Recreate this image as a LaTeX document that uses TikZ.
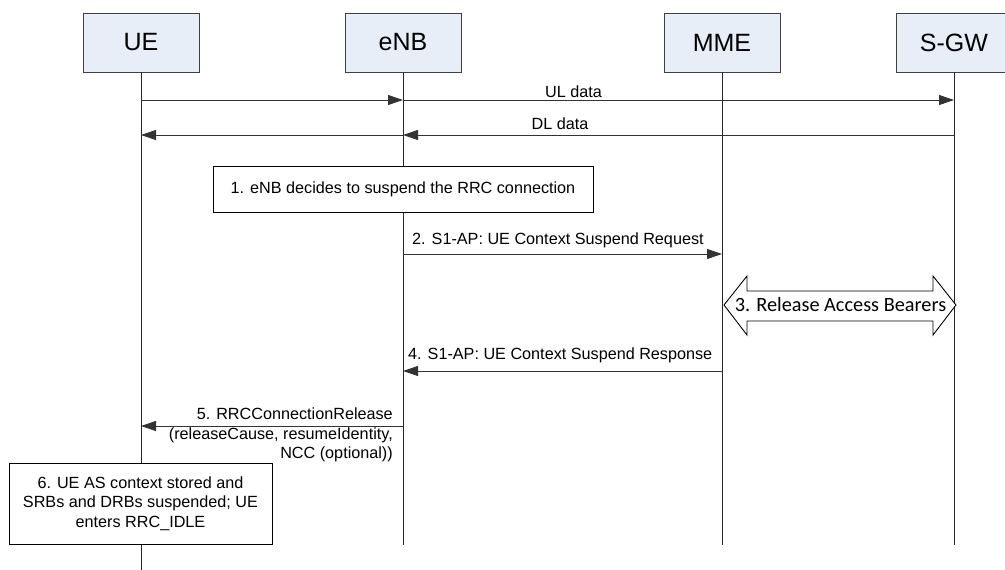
\documentclass[tikz,border=0pt]{standalone}
\usepackage{fontspec}
\setmainfont{Liberation Sans}
\newfontfamily\carlitofont{Carlito}
\usetikzlibrary{arrows.meta}
\definecolor{boxblue}{RGB}{232,238,247}
\begin{document}
\begin{tikzpicture}[x=1pt,y=-1pt,
  entity/.style={draw=black!75, line width=1pt, fill=boxblue, minimum width=116pt, minimum height=59pt, inner sep=0pt, font=\fontsize{25}{29}\selectfont},
  life/.style={draw=black!85, line width=0.8pt},
  msg/.style={draw=black!80, line width=0.9pt, -{Triangle[length=15pt,width=10pt]}},
  lbl/.style={inner sep=0pt, font=\fontsize{16.2}{19.5}\selectfont},
  stepbox/.style={draw=black, line width=1pt, fill=white, inner sep=0pt, align=center, font=\fontsize{16.2}{19.5}\selectfont},
  bigarrow/.style={draw=black, line width=0.9pt, fill=white}]
\useasboundingbox (0,0) rectangle (1005,570);

% entities
\node[entity] (ue)  at (141,42.5) {UE};
\node[entity] (enb) at (403,42.5) {eNB};
\node[entity] (mme) at (722,42.5) {MME};
\node[entity] (sgw) at (954,42.5) {S-GW};

% lifeline ends
\coordinate (ueEnd)  at (141,570);
\coordinate (enbEnd) at (403,545);
\coordinate (mmeEnd) at (722,545);
\coordinate (sgwEnd) at (954,545);
\draw[life] (ue.south) -- (ueEnd);
\draw[life] (enb.south) -- (enbEnd);
\draw[life] (mme.south) -- (mmeEnd);
\draw[life] (sgw.south) -- (sgwEnd);

% message points
\coordinate (ueUL)  at (141,100);
\coordinate (enbUL) at (403,100);
\coordinate (sgwUL) at (954,100);
\coordinate (ueDL)  at (141,135);
\coordinate (enbDL) at (403,135);
\coordinate (sgwDL) at (954,135);
\coordinate (enb2) at (403,254);
\coordinate (mme2) at (722,254);
\coordinate (enb4) at (403,371);
\coordinate (mme4) at (722,371);
\coordinate (ue5)  at (141,426);
\coordinate (enb5) at (403,426);

% UL / DL data
\draw[msg] (ueUL) -- (enbUL);
\draw[msg] (enbUL) -- (sgwUL);
\node[lbl] (ullbl) at (573.5,92) {UL data};
\draw[msg] (enbDL) -- (ueDL);
\draw[msg] (sgwDL) -- (enbDL);
\node[lbl] (dllbl) at (560,124) {DL data};

% step 1
\node[stepbox, minimum width=380pt, minimum height=46pt] (s1) at (403,189) {1. eNB decides to suspend the RRC connection};

% step 2
\draw[msg] (enb2) -- (mme2);
\node[lbl, anchor=west] (l2) at (412,240) {2. S1-AP: UE Context Suspend Request};

% step 3
\coordinate (a3l) at (724,305);
\coordinate (a3r) at (956,305);
\draw[bigarrow] (a3l) -- ++(23,-29) -- ++(0,15) -- ++(186,0) -- ++(0,-15) -- (a3r)
  -- ++(-23,30) -- ++(0,-14) -- ++(-186,0) -- ++(0,14) -- cycle;
\node[inner sep=0pt, font=\carlitofont\fontsize{20.3}{24}\selectfont] (l3) at (840.5,305) {3. Release Access Bearers};

% step 4
\draw[msg] (mme4) -- (enb4);
\node[lbl, anchor=west] (l4) at (408,355) {4. S1-AP: UE Context Suspend Response};

% step 5
\draw[msg] (enb5) -- (ue5);
\node[lbl, anchor=east, align=right] (l5) at (393,435) {5. RRCConnectionRelease\\(releaseCause, resumeIdentity,\\NCC (optional))};

% step 6
\node[stepbox, minimum width=263pt, minimum height=81pt] (s6) at (140.5,503.5) {6. UE AS context stored and\\SRBs and DRBs suspended; UE\\enters RRC\_IDLE};
\end{tikzpicture}
\end{document}
